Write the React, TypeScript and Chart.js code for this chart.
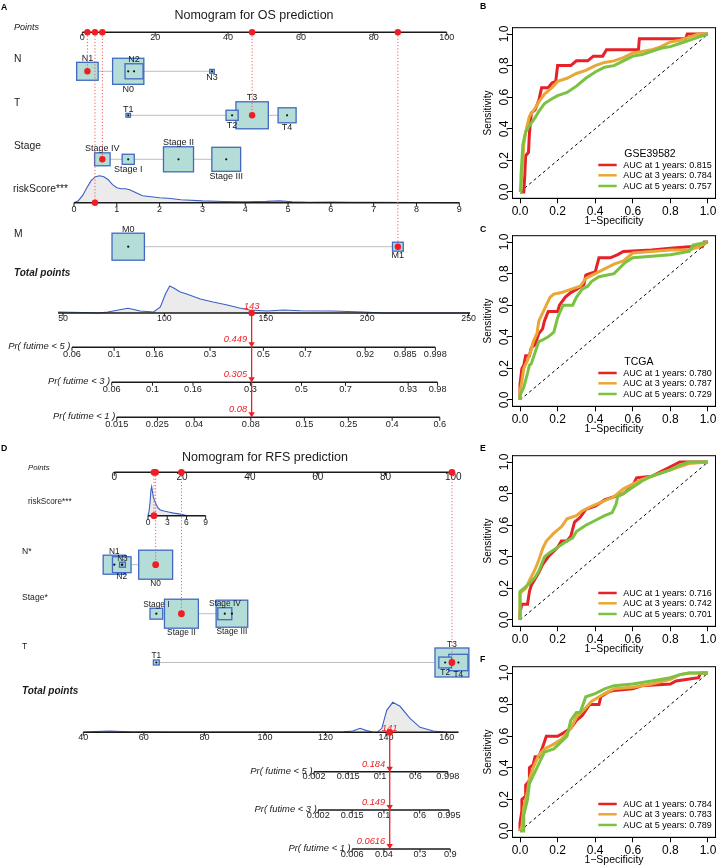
import React, { useEffect, useRef } from "react";
import { Chart, registerables } from "chart.js";

Chart.register(...registerables);

const FONT = '"Liberation Sans", Arial, Helvetica, sans-serif';
const INK = "#1a1a1a";
const ROC_RED = "#E52227";
const ROC_ORANGE = "#E8A838";
const ROC_GREEN = "#7CC242";
const NOMO_RED = "#F01D22";
const DOT_RED = "#F25A5A";
const BOX_FILL = "#B3DDD6";
const BOX_EDGE = "#4169C2";
const DENS_LINE = "#3C5FC4";
const DENS_FILL = "#EBEBEB";

// ================= A: Nomogram for OS prediction =================
const osPointTicks = [0, 20, 40, 60, 80, 100];
const osNLevels = ["N0", "N1", "N2", "N3"];
const osNPoints = [12.6, 1.4, 14.2, 35.6];
const osNFreq = [0.93, 0.44, 0.31, 0.02];
const osTLevels = ["T1", "T2", "T3", "T4"];
const osTPoints = [12.6, 41.1, 46.6, 56.2];
const osTFreq = [0.02, 0.14, 1.0, 0.31];
const osStageLevels = ["Stage I", "Stage II", "Stage III", "Stage IV"];
const osStagePoints = [12.6, 26.4, 39.5, 5.5];
const osStageFreq = [0.14, 0.86, 0.79, 0.23];
const osMLevels = ["M0", "M1"];
const osMPoints = [12.6, 86.6];
const osMFreq = [1.0, 0.11];
const osSelected = ["N1", "T3", "Stage IV", "M1"];
const osRiskTicks = [0, 1, 2, 3, 4, 5, 6, 7, 8, 9];
const osRiskRange = [0.194, 8.706]; // riskScore aligned with 0 and 100 points
const osRiskGrid = [0, 0.1, 0.2, 0.3, 0.4, 0.5, 0.6, 0.7, 0.8, 0.9, 1.0, 1.1, 1.2, 1.3, 1.4, 1.5, 1.6, 1.8, 2.0, 2.2, 2.5, 3.0, 3.5, 4.0, 4.5, 4.8, 5.1, 5.5, 6.0, 6.5, 7.0, 8.0, 9.0];
const osRiskDensity = [0, 2, 7, 15, 22, 26, 27, 26, 23, 18, 15, 14, 14, 13, 11, 9, 7, 6, 5, 4.5, 3, 1.8, 1.2, 1, 1.3, 1.8, 1, 0.5, 0.7, 0.5, 0.3, 0.2, 0];
const osRiskValue = 0.49;
const osTotalTicks = [50, 100, 150, 200, 250];
const osTotalRange = [59.5, 239.2]; // total points aligned with 0 and 100 points
const osTotalLine = [47.5, 250.7];
const osTotalGrid = [47.5, 60, 68, 72, 76.6, 82, 85, 88, 94.7, 98, 100.5, 102.6, 104.6, 107.8, 111, 117.7, 124, 131, 137, 142, 150.6, 158.8, 167, 183, 198, 208, 230, 250.7];
const osTotalDensity = [1, 0.5, 0, 1, 2.7, 4.7, 3.5, 2, 1, 6, 19, 27, 25, 21, 19, 14, 11, 8, 5, 3, 2, 3, 2.3, 2, 1, 0, 0, 0];
const osTotalValue = 143;
const osPr5Ticks = ["0.06", "0.1", "0.16", "0.3", "0.5", "0.7", "0.92", "0.985", "0.998"];
const osPr5At = [54.4, 75.2, 95.1, 122.5, 148.8, 169.5, 199, 218.7, 233.6];
const osPr3Ticks = ["0.06", "0.1", "0.16", "0.3", "0.5", "0.7", "0.93", "0.98"];
const osPr3At = [74.0, 94.1, 114.1, 142.4, 167.6, 189.3, 220.2, 234.7];
const osPr1Ticks = ["0.015", "0.025", "0.04", "0.08", "0.15", "0.25", "0.4", "0.6"];
const osPr1At = [76.5, 96.5, 114.7, 142.6, 169.0, 190.7, 212.3, 235.8];
const osPrValues = ["0.449", "0.305", "0.08"];

// ================= D: Nomogram for RFS prediction =================
const rfsPointTicks = [0, 20, 40, 60, 80, 100];
const rfsRiskTicks = [0, 3, 6, 9];
const rfsRiskRange = [-5.26, 47.63];
const rfsRiskGrid = [0, 0.15, 0.3, 0.45, 0.57, 0.7, 0.83, 1.0, 1.2, 1.5, 1.9, 2.5, 3.2, 4.0, 4.8, 5.5, 6.2];
const rfsRiskDensity = [0, 4, 12, 24, 28, 23, 18, 15, 12, 8, 5.5, 4.5, 3.5, 2.5, 1.8, 1, 0];
const rfsRiskValue = 0.93;
const rfsNLevels = ["N0", "N1", "N2", "N3"];
const rfsNPoints = [12.2, 0, 2.2, 2.4];
const rfsNFreq = [1.0, 0.43, 0.3, 0.03];
const rfsStageLevels = ["Stage I", "Stage II", "Stage III", "Stage IV"];
const rfsStagePoints = [12.4, 19.8, 34.7, 32.6];
const rfsStageFreq = [0.14, 1.0, 0.87, 0.17];
const rfsTLevels = ["T1", "T2", "T3", "T4"];
const rfsTPoints = [12.4, 97.6, 99.6, 101.5];
const rfsTFreq = [0.03, 0.14, 1.0, 0.32];
const rfsSelected = ["N0", "Stage II", "T3"];
const rfsTotalTicks = [40, 60, 80, 100, 120, 140, 160];
const rfsTotalRange = [50.24, 162.2];
const rfsTotalLine = [40, 163.9];
const rfsTotalGrid = [40, 44, 48.8, 53, 56.5, 60, 70, 80, 100, 120, 126, 129, 131.4, 133.6, 135.5, 137, 138.6, 140.2, 142.2, 144.6, 147.9, 151.2, 155.6, 160, 163.9];
const rfsTotalDensity = [0, 0.8, 1.3, 0.8, 0.3, 0.5, 0.3, 0.2, 0.2, 0.3, 0.6, 1.3, 4, 1.7, 0.3, 0, 4, 22, 30, 26, 14, 5, 1.3, 0, 0];
const rfsTotalValue = 141.2;
const rfsPr5Ticks = ["0.002", "0.015", "0.1", "0.6", "0.998"];
const rfsPr5At = [116.2, 127.5, 138.0, 149.7, 160.4];
const rfsPr3Ticks = ["0.002", "0.015", "0.1", "0.6", "0.995"];
const rfsPr3At = [117.6, 128.8, 139.3, 151.1, 160.8];
const rfsPr1Ticks = ["0.006", "0.04", "0.3", "0.9"];
const rfsPr1At = [128.8, 139.3, 151.2, 161.2];
const rfsPrValues = ["0.184", "0.149", "0.0616"];

// ================= ROC curves (1-Specificity, Sensitivity) =================
const rocTicks = [0, 0.2, 0.4, 0.6, 0.8, 1.0];
const rocLegendYears = [1, 3, 5];

const rocB1 = [[0, 0], [0.02, 0], [0.025, 0.1], [0.03, 0.23], [0.045, 0.25], [0.05, 0.37], [0.06, 0.5], [0.08, 0.52], [0.1, 0.58], [0.115, 0.66], [0.15, 0.66], [0.17, 0.69], [0.19, 0.7], [0.2, 0.8], [0.27, 0.8], [0.3, 0.83], [0.36, 0.83], [0.39, 0.86], [0.44, 0.86], [0.46, 0.9], [0.63, 0.9], [0.635, 0.97], [0.88, 0.97], [0.89, 1], [1, 1]];
const rocB3 = [[0, 0], [0.01, 0.1], [0.02, 0.3], [0.03, 0.38], [0.05, 0.48], [0.08, 0.53], [0.1, 0.57], [0.13, 0.62], [0.17, 0.66], [0.2, 0.7], [0.25, 0.72], [0.3, 0.75], [0.35, 0.77], [0.4, 0.8], [0.45, 0.82], [0.5, 0.83], [0.55, 0.85], [0.6, 0.88], [0.65, 0.89], [0.7, 0.9], [0.75, 0.92], [0.8, 0.95], [0.85, 0.96], [0.9, 0.98], [0.95, 1], [1, 1]];
const rocB5 = [[0, 0], [0.005, 0.1], [0.015, 0.3], [0.03, 0.38], [0.05, 0.42], [0.08, 0.47], [0.1, 0.51], [0.13, 0.56], [0.17, 0.59], [0.2, 0.61], [0.25, 0.63], [0.3, 0.67], [0.35, 0.72], [0.4, 0.76], [0.45, 0.79], [0.5, 0.8], [0.55, 0.83], [0.6, 0.86], [0.65, 0.87], [0.7, 0.89], [0.75, 0.91], [0.8, 0.92], [0.85, 0.94], [0.9, 0.96], [0.95, 0.98], [1, 1]];

const rocC1 = [[0, 0], [0, 0.1], [0.01, 0.2], [0.02, 0.22], [0.03, 0.28], [0.05, 0.28], [0.06, 0.33], [0.08, 0.35], [0.1, 0.42], [0.12, 0.45], [0.13, 0.5], [0.15, 0.56], [0.2, 0.56], [0.21, 0.6], [0.24, 0.65], [0.27, 0.68], [0.3, 0.7], [0.34, 0.73], [0.35, 0.79], [0.37, 0.8], [0.4, 0.81], [0.42, 0.9], [0.48, 0.9], [0.52, 0.92], [0.55, 0.94], [0.7, 0.95], [0.8, 0.96], [0.9, 0.97], [0.97, 0.97], [0.98, 1], [1, 1]];
const rocC3 = [[0, 0], [0, 0.05], [0.01, 0.12], [0.02, 0.2], [0.04, 0.25], [0.06, 0.32], [0.07, 0.37], [0.09, 0.42], [0.1, 0.5], [0.12, 0.55], [0.14, 0.6], [0.16, 0.65], [0.18, 0.67], [0.22, 0.68], [0.27, 0.7], [0.32, 0.72], [0.35, 0.77], [0.4, 0.8], [0.45, 0.83], [0.5, 0.86], [0.55, 0.88], [0.6, 0.93], [0.7, 0.94], [0.8, 0.95], [0.9, 0.95], [0.95, 0.97], [1, 1]];
const rocC5 = [[0, 0], [0, 0.03], [0.02, 0.08], [0.04, 0.17], [0.05, 0.22], [0.06, 0.23], [0.08, 0.3], [0.1, 0.37], [0.12, 0.38], [0.15, 0.4], [0.18, 0.43], [0.2, 0.52], [0.21, 0.55], [0.23, 0.6], [0.28, 0.6], [0.3, 0.65], [0.33, 0.7], [0.36, 0.72], [0.38, 0.75], [0.42, 0.78], [0.5, 0.8], [0.56, 0.87], [0.6, 0.9], [0.7, 0.91], [0.8, 0.92], [0.9, 0.94], [0.92, 0.98], [1, 1]];

const rocE1 = [[0, 0], [0, 0.05], [0.01, 0.1], [0.04, 0.1], [0.05, 0.18], [0.06, 0.22], [0.08, 0.26], [0.1, 0.3], [0.12, 0.35], [0.15, 0.4], [0.2, 0.46], [0.22, 0.5], [0.25, 0.5], [0.27, 0.53], [0.29, 0.62], [0.32, 0.65], [0.35, 0.7], [0.4, 0.72], [0.45, 0.76], [0.5, 0.78], [0.55, 0.8], [0.6, 0.85], [0.62, 0.9], [0.7, 0.91], [0.75, 0.94], [0.8, 0.97], [0.85, 1], [1, 1]];
const rocE3 = [[0, 0], [0, 0.17], [0.03, 0.2], [0.05, 0.25], [0.08, 0.32], [0.1, 0.38], [0.12, 0.45], [0.14, 0.5], [0.18, 0.55], [0.22, 0.59], [0.25, 0.64], [0.3, 0.66], [0.33, 0.69], [0.38, 0.72], [0.42, 0.74], [0.5, 0.78], [0.55, 0.83], [0.6, 0.86], [0.65, 0.89], [0.7, 0.91], [0.8, 0.95], [0.9, 0.99], [1, 1]];
const rocE5 = [[0, 0], [0, 0.18], [0.02, 0.2], [0.05, 0.23], [0.08, 0.27], [0.1, 0.31], [0.13, 0.4], [0.15, 0.42], [0.2, 0.46], [0.25, 0.5], [0.28, 0.52], [0.3, 0.56], [0.35, 0.6], [0.4, 0.63], [0.45, 0.66], [0.49, 0.68], [0.51, 0.73], [0.52, 0.78], [0.55, 0.8], [0.6, 0.84], [0.65, 0.88], [0.7, 0.91], [0.8, 0.95], [0.85, 0.98], [0.9, 1], [1, 1]];

const rocF1 = [[0, 0], [0, 0.05], [0.01, 0.13], [0.01, 0.2], [0.03, 0.22], [0.03, 0.29], [0.05, 0.32], [0.05, 0.4], [0.07, 0.42], [0.08, 0.47], [0.1, 0.47], [0.12, 0.53], [0.14, 0.6], [0.2, 0.6], [0.23, 0.62], [0.27, 0.65], [0.3, 0.7], [0.33, 0.73], [0.37, 0.8], [0.42, 0.8], [0.43, 0.85], [0.47, 0.88], [0.5, 0.89], [0.6, 0.9], [0.65, 0.92], [0.8, 0.93], [0.83, 0.95], [0.95, 0.97], [0.96, 1], [1, 1]];
const rocF3 = [[0, 0], [0.01, 0.03], [0.02, 0.15], [0.04, 0.25], [0.05, 0.33], [0.07, 0.4], [0.1, 0.48], [0.13, 0.52], [0.18, 0.55], [0.22, 0.58], [0.27, 0.65], [0.3, 0.72], [0.35, 0.78], [0.38, 0.82], [0.45, 0.87], [0.5, 0.9], [0.6, 0.91], [0.7, 0.93], [0.8, 0.96], [0.85, 0.99], [0.9, 1], [1, 1]];
const rocF5 = [[0, 0], [0.02, 0], [0.02, 0.1], [0.04, 0.2], [0.05, 0.3], [0.07, 0.35], [0.09, 0.4], [0.11, 0.45], [0.13, 0.5], [0.18, 0.52], [0.25, 0.6], [0.27, 0.7], [0.3, 0.75], [0.32, 0.75], [0.35, 0.85], [0.4, 0.87], [0.45, 0.9], [0.5, 0.92], [0.6, 0.93], [0.7, 0.95], [0.8, 0.97], [0.85, 0.99], [0.9, 1], [1, 1]];

const aucB = ["0.815", "0.784", "0.757"];
const aucC = ["0.780", "0.787", "0.729"];
const aucE = ["0.716", "0.742", "0.701"];
const aucF = ["0.784", "0.783", "0.789"];

// ================= helpers =================
function text(ctx: CanvasRenderingContext2D, s: string, x: number, y: number, size: number, o: any = {}) {
  ctx.save();
  ctx.font = `${o.style || "normal"} ${o.weight || "normal"} ${size}px ${FONT}`;
  ctx.fillStyle = o.color || INK;
  ctx.textAlign = o.align || "left";
  ctx.textBaseline = o.baseline || "alphabetic";
  if (o.rotate) {
    ctx.translate(x, y);
    ctx.rotate(o.rotate);
    ctx.fillText(s, 0, 0);
  } else ctx.fillText(s, x, y);
  ctx.restore();
}

function hAxis(ctx: CanvasRenderingContext2D, pxs: number[], labels: string[], y: number, size: number, dy: number, x0: number, x1: number) {
  ctx.save();
  ctx.strokeStyle = INK;
  ctx.lineWidth = 1.4;
  ctx.beginPath();
  ctx.moveTo(x0, y);
  ctx.lineTo(x1, y);
  ctx.stroke();
  ctx.lineWidth = 1;
  pxs.forEach((px) => {
    ctx.beginPath();
    ctx.moveTo(px, y);
    ctx.lineTo(px, y + 3.5);
    ctx.stroke();
  });
  ctx.restore();
  pxs.forEach((px, i) => text(ctx, labels[i], px, y + dy, size, { align: "center" }));
}

function density(ctx: CanvasRenderingContext2D, X: (v: number) => number, grid: number[], dens: number[], baseY: number, h: number) {
  const max = Math.max(...dens);
  const pts = grid.map((g, i) => [X(g), baseY - (dens[i] / max) * h]);
  ctx.save();
  ctx.beginPath();
  ctx.moveTo(pts[0][0], baseY);
  pts.forEach((p) => ctx.lineTo(p[0], p[1]));
  ctx.lineTo(pts[pts.length - 1][0], baseY);
  ctx.closePath();
  ctx.fillStyle = DENS_FILL;
  ctx.fill();
  ctx.beginPath();
  pts.forEach((p, i) => (i ? ctx.lineTo(p[0], p[1]) : ctx.moveTo(p[0], p[1])));
  ctx.strokeStyle = DENS_LINE;
  ctx.lineWidth = 1.1;
  ctx.stroke();
  ctx.restore();
}

function dot(ctx: CanvasRenderingContext2D, x: number, y: number, r: number, color: string) {
  ctx.save();
  ctx.beginPath();
  ctx.arc(x, y, r, 0, Math.PI * 2);
  ctx.fillStyle = color;
  ctx.fill();
  ctx.restore();
}

function drawNomogram(chart: any, nm: any) {
  const ctx: CanvasRenderingContext2D = chart.ctx;
  const L = nm.layout;
  const Y = (v: number) => chart.scales.y.getPixelForValue(v);
  const P = (v: number) => chart.scales.x.getPixelForValue(v);
  const R = (v: number) => chart.scales.xRisk.getPixelForValue(v);
  const T = (v: number) => chart.scales.xTotal.getPixelForValue(v);

  text(ctx, nm.letter, L.letterX, Y(L.letterY), 8.7, { weight: "bold", color: "#000" });
  text(ctx, nm.title, L.titleX, Y(L.titleY), L.titleSize, { align: "center" });

  // Points axis
  text(ctx, "Points", L.pointsLabelX, Y(L.pointsLabelY), L.pointsLabelSize, { style: "italic" });
  hAxis(ctx, nm.pointTicks.map(P), nm.pointTicks.map(String), Y(L.pointsAxisY), L.pointsTickSize, L.axisTickDy, P(0), P(100));

  // factor rows
  nm.factors.forEach((f: any) => {
    text(ctx, f.label, L.labelX, Y(f.labelY), L.labelSize);
    const py = Y(f.boxY);
    const pxs = f.points.map(P);
    ctx.save();
    ctx.strokeStyle = "#BDBDBD";
    ctx.lineWidth = 1;
    ctx.beginPath();
    ctx.moveTo(Math.min(...pxs), py);
    ctx.lineTo(Math.max(...pxs), py);
    ctx.stroke();
    ctx.restore();
    const dims = f.freq.map((w: number) => {
      const h = L.boxK * Math.sqrt(w);
      return [h * L.boxAspect, h];
    });
    const byFreq = f.levels.map((_: any, i: number) => i).sort((a: number, b: number) => f.freq[b] - f.freq[a]);
    byFreq.forEach((i: number) => {
      const [w, h] = dims[i];
      ctx.save();
      ctx.fillStyle = BOX_FILL;
      ctx.fillRect(pxs[i] - w / 2, py - h / 2, w, h);
      ctx.strokeStyle = BOX_EDGE;
      ctx.lineWidth = 1.3;
      ctx.strokeRect(pxs[i] - w / 2, py - h / 2, w, h);
      ctx.restore();
    });
    f.levels.forEach((lv: string, i: number) => {
      if (lv !== f.selected) dot(ctx, pxs[i], py, 1.1, "#111");
    });
    const byPts = f.levels.map((_: any, i: number) => i).sort((a: number, b: number) => f.points[a] - f.points[b]);
    byPts.forEach((i: number, k: number) => {
      const h = dims[i][1];
      if (k % 2 === 0) text(ctx, f.levels[i], pxs[i], py - h / 2 - 1.5, L.boxLabelSize, { align: "center" });
      else text(ctx, f.levels[i], pxs[i], py + h / 2 + 0.8 + L.boxLabelSize * 0.72, L.boxLabelSize, { align: "center" });
    });
  });

  // riskScore
  text(ctx, "riskScore***", L.riskLabelX, Y(L.riskLabelY), L.riskLabelSize);
  density(ctx, R, nm.riskGrid, nm.riskDensity, Y(L.riskAxisY), L.riskDensH);
  hAxis(ctx, nm.riskTicks.map(R), nm.riskTicks.map(String), Y(L.riskAxisY), L.riskTickSize, L.riskTickDy, R(nm.riskTicks[0]), R(nm.riskTicks[nm.riskTicks.length - 1]));

  // total points
  text(ctx, "Total points", L.labelX, Y(L.totalLabelY), 10, { style: "italic", weight: "bold" });
  density(ctx, T, nm.totalGrid, nm.totalDensity, Y(L.totalAxisY), L.totalDensH);
  hAxis(ctx, nm.totalTicks.map(T), nm.totalTicks.map(String), Y(L.totalAxisY), L.totalTickSize, L.axisTickDy, T(nm.totalLine[0]), T(nm.totalLine[1]));

  // probability axes
  nm.pr.forEach((pr: any, i: number) => {
    const y = Y(L.prAxisY[i]);
    const pxs = pr.at.map(T);
    text(ctx, pr.label, pxs[0] - 1.5, y + 2, 9.4, { style: "italic", align: "right" });
    hAxis(ctx, pxs, pr.ticks, y, 9.2, L.prTickDy, pxs[0], pxs[pxs.length - 1]);
  });

  // selected values: dotted guides + red dots
  const axisY = Y(L.pointsAxisY);
  const marks: number[][] = nm.factors.map((f: any) => [P(f.points[f.levels.indexOf(f.selected)]), Y(f.boxY)]);
  marks.push([R(nm.riskValue), Y(L.riskAxisY)]);
  ctx.save();
  ctx.strokeStyle = DOT_RED;
  ctx.lineWidth = 1;
  ctx.setLineDash([1.2, 2]);
  marks.forEach(([x, y]) => {
    ctx.beginPath();
    ctx.moveTo(x, axisY);
    ctx.lineTo(x, y);
    ctx.stroke();
  });
  ctx.restore();
  marks.forEach(([x, y]) => {
    dot(ctx, x, axisY, L.redR, NOMO_RED);
    dot(ctx, x, y, L.redR, NOMO_RED);
  });

  // total → probabilities
  const tx = T(nm.totalValue);
  const ty = Y(L.totalAxisY);
  const lastY = Y(L.prAxisY[L.prAxisY.length - 1]);
  ctx.save();
  ctx.strokeStyle = NOMO_RED;
  ctx.lineWidth = 1.3;
  ctx.beginPath();
  ctx.moveTo(tx, ty);
  ctx.lineTo(tx, lastY);
  ctx.stroke();
  ctx.restore();
  dot(ctx, tx, ty, L.redR, NOMO_RED);
  text(ctx, String(Math.round(nm.totalValue)), tx, ty + L.totalValueDy, 9.5, { style: "italic", color: NOMO_RED, align: "center" });
  L.prAxisY.forEach((py: number, i: number) => {
    const y = Y(py);
    ctx.save();
    ctx.fillStyle = NOMO_RED;
    ctx.beginPath();
    ctx.moveTo(tx - 3.2, y - 5);
    ctx.lineTo(tx + 3.2, y - 5);
    ctx.lineTo(tx, y);
    ctx.closePath();
    ctx.fill();
    ctx.restore();
    text(ctx, nm.prValues[i], tx - 4.5, y - 5, 9.3, { style: "italic", color: NOMO_RED, align: "right" });
  });
}

// ================= configs =================
const osNomogram = {
  letter: "A",
  title: "Nomogram for OS prediction",
  pointTicks: osPointTicks,
  factors: [
    { label: "N", levels: osNLevels, points: osNPoints, freq: osNFreq, selected: osSelected[0], labelY: 62.4, boxY: 71.3 },
    { label: "T", levels: osTLevels, points: osTPoints, freq: osTFreq, selected: osSelected[1], labelY: 106.4, boxY: 115.3 },
    { label: "Stage", levels: osStageLevels, points: osStagePoints, freq: osStageFreq, selected: osSelected[2], labelY: 149.1, boxY: 159.3 },
    { label: "M", levels: osMLevels, points: osMPoints, freq: osMFreq, selected: osSelected[3], labelY: 236.7, boxY: 246.7 },
  ],
  riskTicks: osRiskTicks, riskRange: osRiskRange, riskGrid: osRiskGrid, riskDensity: osRiskDensity, riskValue: osRiskValue,
  totalTicks: osTotalTicks, totalRange: osTotalRange, totalLine: osTotalLine, totalGrid: osTotalGrid, totalDensity: osTotalDensity, totalValue: osTotalValue,
  pr: [
    { label: "Pr( futime < 5 )", ticks: osPr5Ticks, at: osPr5At },
    { label: "Pr( futime < 3 )", ticks: osPr3Ticks, at: osPr3At },
    { label: "Pr( futime < 1 )", ticks: osPr1Ticks, at: osPr1At },
  ],
  prValues: osPrValues,
  layout: {
    W: 490, H: 440, top: 0, p0: 82.3, p100: 446.7,
    letterX: 1, letterY: 10, titleX: 254, titleY: 19, titleSize: 12.5,
    labelX: 14, labelSize: 10.3, boxLabelSize: 9, boxK: 27, boxAspect: 1.2, redR: 3.2,
    pointsLabelX: 14, pointsLabelY: 30.4, pointsLabelSize: 9, pointsAxisY: 32.3, pointsTickSize: 9, axisTickDy: 7.7,
    riskLabelX: 13, riskLabelY: 192.4, riskLabelSize: 10.3, riskAxisY: 202.7, riskDensH: 27, riskTickSize: 9, riskTickDy: 9,
    totalLabelY: 275.5, totalAxisY: 313, totalDensH: 27, totalTickSize: 8.8, totalValueDy: -3.7,
    prAxisY: [347.3, 382.3, 417.3], prTickDy: 9.4,
  },
};

const rfsNomogram = {
  letter: "D",
  title: "Nomogram for RFS prediction",
  pointTicks: rfsPointTicks,
  factors: [
    { label: "N*", levels: rfsNLevels, points: rfsNPoints, freq: rfsNFreq, selected: rfsSelected[0], labelY: 114.4, boxY: 124.7 },
    { label: "Stage*", levels: rfsStageLevels, points: rfsStagePoints, freq: rfsStageFreq, selected: rfsSelected[1], labelY: 160.4, boxY: 173.7 },
    { label: "T", levels: rfsTLevels, points: rfsTPoints, freq: rfsTFreq, selected: rfsSelected[2], labelY: 209.4, boxY: 222.5 },
  ],
  riskTicks: rfsRiskTicks, riskRange: rfsRiskRange, riskGrid: rfsRiskGrid, riskDensity: rfsRiskDensity, riskValue: rfsRiskValue,
  totalTicks: rfsTotalTicks, totalRange: rfsTotalRange, totalLine: rfsTotalLine, totalGrid: rfsTotalGrid, totalDensity: rfsTotalDensity, totalValue: rfsTotalValue,
  pr: [
    { label: "Pr( futime < 5 )", ticks: rfsPr5Ticks, at: rfsPr5At },
    { label: "Pr( futime < 3 )", ticks: rfsPr3Ticks, at: rfsPr3At },
    { label: "Pr( futime < 1 )", ticks: rfsPr1Ticks, at: rfsPr1At },
  ],
  prValues: rfsPrValues,
  layout: {
    W: 490, H: 427, top: 440, p0: 114.3, p100: 453.3,
    letterX: 1, letterY: 11, titleX: 265, titleY: 21, titleSize: 12.5,
    labelX: 22, labelSize: 8.6, boxLabelSize: 8.3, boxK: 29, boxAspect: 1.17, redR: 3.4,
    pointsLabelX: 28, pointsLabelY: 30, pointsLabelSize: 7.8, pointsAxisY: 32.3, pointsTickSize: 10, axisTickDy: 7.9,
    riskLabelX: 28, riskLabelY: 64.4, riskLabelSize: 8.2, riskAxisY: 75.7, riskDensH: 29, riskTickSize: 8.5, riskTickDy: 9.3,
    totalLabelY: 253.9, totalAxisY: 292.3, totalDensH: 30, totalTickSize: 9, totalValueDy: -1.6,
    prAxisY: [331.7, 370, 409], prTickDy: 7.6,
  },
};

const rocPanels = [
  { letter: "B", top: 0, letterY: 9.3, cohort: "GSE39582", curves: [rocB1, rocB3, rocB5], auc: aucB },
  { letter: "C", top: 208, letterY: 23.7, cohort: "TCGA", curves: [rocC1, rocC3, rocC5], auc: aucC },
  { letter: "E", top: 428, letterY: 22.7, cohort: "", curves: [rocE1, rocE3, rocE5], auc: aucE },
  { letter: "F", top: 639, letterY: 22.7, cohort: "", curves: [rocF1, rocF3, rocF5], auc: aucF },
];
const rocColors = [ROC_RED, ROC_ORANGE, ROC_GREEN];

// ================= components =================
function Nomogram({ nm }: { nm: any }) {
  const ref = useRef<HTMLCanvasElement>(null);
  const L = nm.layout;
  useEffect(() => {
    const chart = new Chart(ref.current as HTMLCanvasElement, {
      type: "scatter",
      data: { datasets: [{ data: [], xAxisID: "x", yAxisID: "y" }] },
      options: {
        animation: false,
        responsive: false,
        events: [],
        layout: { padding: { left: L.p0, right: L.W - L.p100, top: 0, bottom: 0 } },
        plugins: { legend: { display: false }, tooltip: { enabled: false } },
        scales: {
          x: { type: "linear", min: 0, max: 100, display: false },
          xRisk: { type: "linear", axis: "x", min: nm.riskRange[0], max: nm.riskRange[1], display: false },
          xTotal: { type: "linear", axis: "x", min: nm.totalRange[0], max: nm.totalRange[1], display: false },
          y: { type: "linear", min: 0, max: L.H, reverse: true, display: false },
        },
      } as any,
      plugins: [{ id: "nomogram", afterDraw: (c: any) => drawNomogram(c, nm) }],
    });
    return () => chart.destroy();
  }, []);
  return (
    <canvas
      ref={ref}
      width={L.W}
      height={L.H}
      style={{ position: "absolute", left: 0, top: L.top, width: L.W, height: L.H }}
    />
  );
}

function Roc({ p }: { p: any }) {
  const ref = useRef<HTMLCanvasElement>(null);
  const W = 246;
  const H = 228;
  useEffect(() => {
    const decor = {
      id: "rocDecor",
      afterDraw(chart: any) {
        const ctx: CanvasRenderingContext2D = chart.ctx;
        const a = chart.chartArea;
        const x = chart.scales.x;
        const y = chart.scales.y;
        ctx.save();
        ctx.strokeStyle = "#000";
        ctx.lineWidth = 1;
        ctx.strokeRect(a.left, a.top, a.right - a.left, a.bottom - a.top);
        ctx.restore();
        rocTicks.forEach((v) => {
          text(ctx, v.toFixed(1), x.getPixelForValue(v), a.bottom + 16.3, 12, { align: "center", color: "#000" });
          text(ctx, v.toFixed(1), a.left - 4.5, y.getPixelForValue(v), 12, { align: "center", color: "#000", rotate: -Math.PI / 2 });
        });
        text(ctx, "1\u2212Specificity", (x.getPixelForValue(0) + x.getPixelForValue(1)) / 2, a.bottom + 25.5, 10.5, { align: "center", color: "#000" });
        text(ctx, "Sensitivity", a.left - 22, (y.getPixelForValue(0) + y.getPixelForValue(1)) / 2, 10, { align: "center", color: "#000", rotate: -Math.PI / 2 });
        const y0 = y.getPixelForValue(0);
        if (p.cohort) text(ctx, p.cohort, a.right - 91.2, y0 - 34.7, 10.5, { color: "#000" });
        [-27, -16.7, -6].forEach((dy, i) => {
          ctx.save();
          ctx.strokeStyle = rocColors[i];
          ctx.lineWidth = 2.5;
          ctx.beginPath();
          ctx.moveTo(a.right - 117.2, y0 + dy);
          ctx.lineTo(a.right - 98.8, y0 + dy);
          ctx.stroke();
          ctx.restore();
          text(ctx, `AUC at ${rocLegendYears[i]} years: ${p.auc[i]}`, a.right - 92.2, y0 + dy + 3.2, 9, { color: "#000" });
        });
        text(ctx, p.letter, 10, p.letterY, 8.7, { weight: "bold", color: "#000" });
      },
    };
    const axisCommon = {
      type: "linear",
      min: -0.04,
      max: 1.04,
      afterBuildTicks: (s: any) => {
        s.ticks = rocTicks.map((v) => ({ value: v }));
      },
      ticks: { display: false },
      grid: { drawOnChartArea: false, drawTicks: true, tickLength: 5, color: "#000", lineWidth: 1 },
      border: { display: true, color: "#000", width: 1 },
    };
    const chart = new Chart(ref.current as HTMLCanvasElement, {
      type: "scatter",
      data: {
        datasets: [
          { data: [{ x: 0, y: 0 }, { x: 1, y: 1 }], showLine: true, borderColor: "#000", borderWidth: 1, borderDash: [3, 3], pointRadius: 0, order: 3 },
          ...p.curves.map((c: number[][], i: number) => ({
            data: c.map(([fx, ty]) => ({ x: fx, y: ty })),
            showLine: true,
            borderColor: rocColors[i],
            borderWidth: 3,
            pointRadius: 0,
            order: 2 - i,
          })),
        ],
      },
      options: {
        animation: false,
        responsive: false,
        events: [],
        layout: { padding: { top: 27.7, right: 0.5, left: 0, bottom: 0 } },
        plugins: { legend: { display: false }, tooltip: { enabled: false } },
        scales: {
          x: { ...axisCommon, position: "bottom", afterFit: (s: any) => { s.height = H - 198.3; } },
          y: { ...axisCommon, position: "left", afterFit: (s: any) => { s.width = 42.5; } },
        },
      } as any,
      plugins: [decor],
    });
    return () => chart.destroy();
  }, []);
  return (
    <canvas
      ref={ref}
      width={W}
      height={H}
      style={{ position: "absolute", left: 470, top: p.top, width: W, height: H }}
    />
  );
}

export default function App() {
  return (
    <div style={{ position: "absolute", left: 0, top: 0, width: 716, height: 867, background: "#fff", overflow: "hidden" }}>
      <Nomogram nm={osNomogram} />
      <Nomogram nm={rfsNomogram} />
      {rocPanels.map((p) => (
        <Roc key={p.letter} p={p} />
      ))}
    </div>
  );
}
